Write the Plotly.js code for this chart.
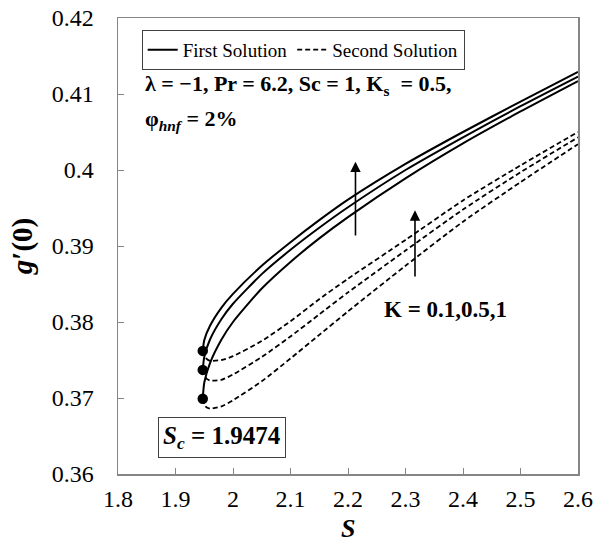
<!DOCTYPE html>
<html>
<head>
<meta charset="utf-8">
<script src="https://cdn.plot.ly/plotly-3.0.1.min.js"></script>
<style>
  html, body { margin: 0; padding: 0; background: #fff; }
  #chart { width: 604px; height: 542px; }
</style>
</head>
<body>
<div id="chart"></div>
<script>
// ---- data ----
const S_first  = [1.9474, 1.95, 1.96, 1.98, 2.0, 2.05, 2.1, 2.15, 2.2, 2.3, 2.4, 2.5, 2.6];
const first_K1   = [0.3762, 0.3776, 0.3795, 0.3819, 0.3837, 0.3874, 0.3905, 0.3934, 0.3961, 0.4008, 0.4050, 0.4090, 0.4129];
const first_K05  = [0.3737, 0.3754, 0.3777, 0.3804, 0.3824, 0.3863, 0.3895, 0.3924, 0.3951, 0.4000, 0.4043, 0.4084, 0.4123];
const first_K01  = [0.3699, 0.3720, 0.3746, 0.3777, 0.3800, 0.3844, 0.3879, 0.3910, 0.3938, 0.3989, 0.4035, 0.4077, 0.4117];

const S_second = [1.9474, 1.952, 1.96, 1.98, 2.0, 2.05, 2.1, 2.15, 2.2, 2.3, 2.4, 2.5, 2.6];
const second_K1  = [0.3762, 0.3753, 0.3749, 0.3750, 0.3755, 0.3775, 0.3801, 0.3830, 0.3857, 0.3908, 0.3960, 0.4006, 0.4050];
const second_K05 = [0.3737, 0.3727, 0.3723, 0.3724, 0.3731, 0.3754, 0.3781, 0.3810, 0.3839, 0.3894, 0.3948, 0.3997, 0.4043];
const second_K01 = [0.3699, 0.3689, 0.3686, 0.3689, 0.3697, 0.3722, 0.3752, 0.3783, 0.3814, 0.3874, 0.3932, 0.3984, 0.4034];

const S_critical = [1.9474, 1.9474, 1.9474];
const g_critical = [0.3762, 0.3737, 0.3699];

const xTickVals = [1.8, 1.9, 2.0, 2.1, 2.2, 2.3, 2.4, 2.5, 2.6];
const xTickText = ['1.8', '1.9', '2', '2.1', '2.2', '2.3', '2.4', '2.5', '2.6'];
const yTickVals = [0.36, 0.37, 0.38, 0.39, 0.40, 0.41, 0.42];
const yTickText = ['0.36', '0.37', '0.38', '0.39', '0.4', '0.41', '0.42'];

// arrows (data coordinates): [x, yTail, yHead]
const arrowFirst  = [2.213, 0.3912, 0.4011];
const arrowSecond = [2.3165, 0.3858, 0.3947];

// ---- styling ----
const SERIF = 'Liberation Serif';
const AXIS_GRAY = '#858585';
const solid = {color: '#000', width: 2, shape: 'spline', smoothing: 0.6};
const dashed = {color: '#000', width: 1.8, dash: '5px,3px', shape: 'spline', smoothing: 0.6};

const traces = [
  {x: S_first, y: first_K1, mode: 'lines', line: solid, name: 'First Solution', showlegend: true},
  {x: S_second, y: second_K1, mode: 'lines', line: dashed, name: 'Second Solution', showlegend: true},
  {x: S_first, y: first_K05, mode: 'lines', line: solid, showlegend: false},
  {x: S_first, y: first_K01, mode: 'lines', line: solid, showlegend: false},
  {x: S_second, y: second_K05, mode: 'lines', line: dashed, showlegend: false},
  {x: S_second, y: second_K01, mode: 'lines', line: dashed, showlegend: false},
  {x: S_critical, y: g_critical, mode: 'markers', marker: {color: '#000', size: 10.5}, showlegend: false}
];

function arrowAnn(a) {
  return {x: a[0], y: a[2], ax: a[0], ay: a[1], xref: 'x', yref: 'y', axref: 'x', ayref: 'y',
          showarrow: true, arrowhead: 2, arrowsize: 1.3, arrowwidth: 1.6, arrowcolor: '#000', text: ''};
}

const layout = {
  width: 604, height: 542,
  margin: {l: 118, r: 26, t: 18, b: 68},
  paper_bgcolor: '#fff', plot_bgcolor: '#fff',
  font: {family: SERIF, color: '#000', size: 23},
  showlegend: true,
  legend: {
    orientation: 'h', x: 0.0515, y: 0.974, xanchor: 'left', yanchor: 'top',
    bordercolor: '#404040', borderwidth: 1, bgcolor: '#fff',
    font: {family: SERIF, size: 19, color: '#000'},
    itemwidth: 30, tracegroupgap: 0
  },
  xaxis: {
    range: [1.8, 2.6], tickvals: xTickVals, ticktext: xTickText,
    ticks: 'inside', ticklen: 6, tickcolor: AXIS_GRAY, tickwidth: 1,
    showline: true, linecolor: AXIS_GRAY, linewidth: 1.5, mirror: true,
    showgrid: false, zeroline: false, ticklabelstandoff: 3,
    tickfont: {family: SERIF, size: 24, color: '#000'}
  },
  yaxis: {
    range: [0.36, 0.42], tickvals: yTickVals, ticktext: yTickText,
    ticks: 'inside', ticklen: 6, tickcolor: AXIS_GRAY, tickwidth: 1,
    showline: true, linecolor: AXIS_GRAY, linewidth: 1.5, mirror: true,
    showgrid: false, zeroline: false, ticklabelstandoff: 18,
    tickfont: {family: SERIF, size: 24, color: '#000'},
    title: {text: '<b><i>g</i>′(0)</b>', font: {family: SERIF, size: 29, color: '#000'}, standoff: 10}
  },
  annotations: [
    {xref: 'paper', yref: 'paper', x: 0.499, y: -0.149, xanchor: 'center', yanchor: 'bottom', showarrow: false,
     height: 26, borderpad: 0, valign: 'middle',
     text: '<b><i>S</i></b>', font: {family: SERIF, size: 26, color: '#000'}},
    {xref: 'paper', yref: 'paper', x: 0.054, y: 0.852, xanchor: 'left', yanchor: 'middle', showarrow: false,
     text: '<b>λ = −1, Pr = 6.2, Sc = 1, K<sub>s</sub>  = 0.5,</b>', font: {family: SERIF, size: 22, color: '#000'}},
    {xref: 'paper', yref: 'paper', x: 0.054, y: 0.776, xanchor: 'left', yanchor: 'middle', showarrow: false,
     text: '<b>φ<sub><i>hnf</i></sub> = 2%</b>', font: {family: SERIF, size: 22, color: '#000'}},
    {xref: 'paper', yref: 'paper', x: 0.711, y: 0.360, xanchor: 'center', yanchor: 'middle', showarrow: false,
     text: '<b>K = 0.1,0.5,1</b>', font: {family: SERIF, size: 23, color: '#000'}},
    {xref: 'paper', yref: 'paper', x: 0.226, y: 0.081, xanchor: 'center', yanchor: 'middle', showarrow: false,
     text: '<b><i>S<sub>c</sub></i> = 1.9474</b>', font: {family: SERIF, size: 25, color: '#000'},
     bordercolor: '#404040', borderwidth: 1, borderpad: 4, bgcolor: '#fff'},
    arrowAnn(arrowFirst),
    arrowAnn(arrowSecond)
  ]
};

Plotly.newPlot('chart', traces, layout, {displayModeBar: false, staticPlot: true});
</script>
</body>
</html>
